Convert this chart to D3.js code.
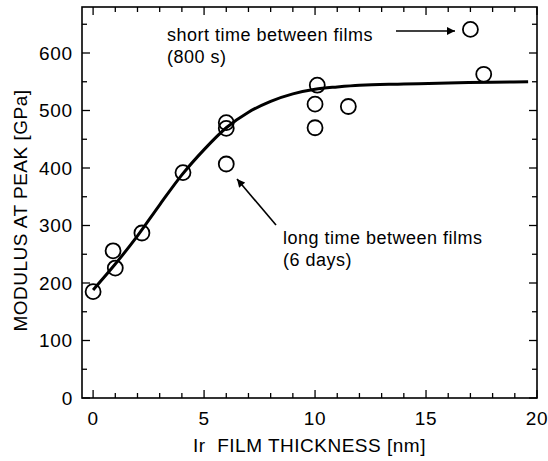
<!DOCTYPE html>
<html>
<head>
<meta charset="utf-8">
<script src="https://cdn.jsdelivr.net/npm/d3@7"></script>
<style>
  body { margin: 0; background: #fff; }
  text { font-family: Arial, "Liberation Sans", sans-serif; fill: #000; }
</style>
</head>
<body>
<svg id="chart" width="548" height="461"></svg>
<script>
// measured points
const thickness = [0, 0.9, 1.0, 2.2, 4.05, 6.0, 6.0, 6.0, 10.1, 10.0, 10.0, 11.5, 17.0, 17.6];
const modulus = [185, 256, 226, 287, 392, 479, 469, 407, 544, 511, 470, 507, 641, 563];

// fitted curve
const fitX = [0, 1, 2, 3, 4, 5, 6, 7, 8, 9, 10, 11, 12, 14, 16, 18, 19.6];
const fitY = [188, 233, 282, 336, 388, 432, 470, 497, 516, 529, 537, 541, 544, 546, 548, 549, 550];

const xMajor = [0, 5, 10, 15, 20];
const yMajor = [0, 100, 200, 300, 400, 500, 600];

const svg = d3.select('#chart');
const x = d3.scaleLinear().domain([-0.5, 20]).range([82, 537]);
const y = d3.scaleLinear().domain([0, 680]).range([398, 7]);

const [x0, x1] = x.range();
const [y0, y1] = y.range();

// frame
svg
  .append('rect')
  .attr('x', x0)
  .attr('y', y1)
  .attr('width', x1 - x0)
  .attr('height', y0 - y1)
  .attr('fill', 'none')
  .attr('stroke', '#000')
  .attr('stroke-width', 1.6);

const ticks = svg.append('g').attr('stroke', '#000').attr('stroke-width', 1.3);

// x ticks, bottom and top, pointing in
d3.range(0, 21, 1).forEach(v => {
  const len = v % 5 === 0 ? 8 : 5;
  ticks.append('line').attr('x1', x(v)).attr('x2', x(v)).attr('y1', y0).attr('y2', y0 - len);
  ticks.append('line').attr('x1', x(v)).attr('x2', x(v)).attr('y1', y1).attr('y2', y1 + len);
});

// y ticks, left and right
d3.range(0, 681, 50).forEach(v => {
  const len = v % 100 === 0 ? 8 : 5;
  ticks.append('line').attr('x1', x0).attr('x2', x0 + len).attr('y1', y(v)).attr('y2', y(v));
  ticks.append('line').attr('x1', x1).attr('x2', x1 - len).attr('y1', y(v)).attr('y2', y(v));
});

svg
  .append('g')
  .selectAll('text')
  .data(xMajor)
  .join('text')
  .attr('x', d => x(d))
  .attr('y', 425)
  .attr('text-anchor', 'middle')
  .attr('font-size', 19)
  .attr('letter-spacing', 0.8)
  .text(d => d);

svg
  .append('g')
  .selectAll('text')
  .data(yMajor)
  .join('text')
  .attr('x', 73)
  .attr('y', d => y(d))
  .attr('dy', '0.36em')
  .attr('text-anchor', 'end')
  .attr('font-size', 19)
  .attr('letter-spacing', 0.8)
  .text(d => d);

svg
  .append('text')
  .attr('x', (x0 + x1) / 2)
  .attr('y', 452)
  .attr('text-anchor', 'middle')
  .attr('font-size', 19)
  .attr('letter-spacing', 0.5)
  .attr('xml:space', 'preserve')
  .text('Ir  FILM THICKNESS [nm]');

svg
  .append('text')
  .attr('transform', `translate(27,${(y0 + y1) / 2 + 8}) rotate(-90)`)
  .attr('text-anchor', 'middle')
  .attr('font-size', 19)
  .attr('letter-spacing', 0.5)
  .text('MODULUS AT PEAK [GPa]');

// fit line
const line = d3
  .line()
  .x(d => x(d[0]))
  .y(d => y(d[1]))
  .curve(d3.curveMonotoneX);

svg
  .append('path')
  .datum(d3.zip(fitX, fitY))
  .attr('d', line)
  .attr('fill', 'none')
  .attr('stroke', '#000')
  .attr('stroke-width', 3);

svg
  .append('g')
  .selectAll('circle')
  .data(d3.zip(thickness, modulus))
  .join('circle')
  .attr('cx', d => x(d[0]))
  .attr('cy', d => y(d[1]))
  .attr('r', 7.5)
  .attr('fill', 'none')
  .attr('stroke', '#000')
  .attr('stroke-width', 1.8);

// annotations
svg
  .append('defs')
  .append('marker')
  .attr('id', 'head')
  .attr('viewBox', '0 0 10 10')
  .attr('refX', 10)
  .attr('refY', 5)
  .attr('markerWidth', 6)
  .attr('markerHeight', 5)
  .attr('markerUnits', 'strokeWidth')
  .attr('orient', 'auto')
  .append('path')
  .attr('d', 'M0,0L10,5L0,10Z')
  .attr('fill', '#000');

const notes = [
  { lines: ['short time between films', '(800 s)'], x: 167, y: 41 },
  { lines: ['long time between films', '(6 days)'], x: 283, y: 244 },
];

notes.forEach(n => {
  const t = svg
    .append('text')
    .attr('x', n.x)
    .attr('y', n.y)
    .attr('font-size', 18)
    .attr('letter-spacing', 0.5);
  n.lines.forEach((s, i) => {
    t.append('tspan').attr('x', n.x).attr('dy', i ? 22 : 0).text(s);
  });
});

const arrows = [
  [396, 31, 455, 31],
  [276, 225, 237, 179],
];

svg
  .append('g')
  .selectAll('line')
  .data(arrows)
  .join('line')
  .attr('x1', d => d[0])
  .attr('y1', d => d[1])
  .attr('x2', d => d[2])
  .attr('y2', d => d[3])
  .attr('stroke', '#000')
  .attr('stroke-width', 1.6)
  .attr('marker-end', 'url(#head)');
</script>
</body>
</html>
